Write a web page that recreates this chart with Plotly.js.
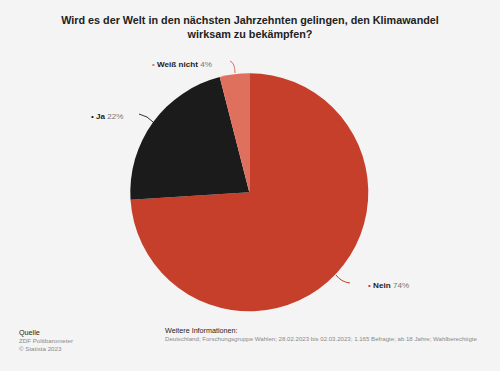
<!DOCTYPE html>
<html>
<head>
<meta charset="utf-8">
<script src="https://cdn.plot.ly/plotly-3.0.1.min.js"></script>
<style>
html,body{margin:0;padding:0;background:#f4f4f4;}
#chart{width:500px;height:371px;}
</style>
</head>
<body>
<div id="chart"></div>
<script>
// Data
const labels = ["Nein", "Ja", "Weiß nicht"];
const values = [74, 22, 4];
const colors = ["#c63f2a", "#1b1b1b", "#e0705e"];

const W = 500, H = 371;
const px = x => x / W;
const py = y => 1 - y / H;

// label layout (pixels): bullet left edge, vertical middle
const labelPos = [[366, 285], [89, 116], [150, 64]];
// leader line paths (pixels): start, control, end
const leaders = [
  [[336, 275], [341, 282], [350, 283]],
  [[139, 114], [148, 116], [153, 122]],
  [[230, 61], [235, 63], [235, 73]]
];

const font = "Liberation Sans, Arial, sans-serif";

const annotations = labels.map((l, i) => ({
  xref: "paper", yref: "paper",
  x: px(labelPos[i][0]), y: py(labelPos[i][1]),
  xanchor: "left", yanchor: "middle",
  showarrow: false,
  text: `<span style="color:${colors[i]}">•</span> <b>${l}</b> <span style="color:#777">${values[i]}%</span>`,
  font: {family: font, size: 8.1, color: "#222"}
}));

// footer
annotations.push(
  {xref:"paper",yref:"paper",x:px(17),y:py(332),xanchor:"left",yanchor:"middle",showarrow:false,
   text:"Quelle",font:{family:font,size:7.2,color:"#222"}},
  {xref:"paper",yref:"paper",x:px(17),y:py(340),xanchor:"left",yanchor:"middle",showarrow:false,
   text:"ZDF Politbarometer",font:{family:font,size:6.2,color:"#8a8a8a"}},
  {xref:"paper",yref:"paper",x:px(17),y:py(348),xanchor:"left",yanchor:"middle",showarrow:false,
   text:"© Statista 2023",font:{family:font,size:6.2,color:"#8a8a8a"}},
  {xref:"paper",yref:"paper",x:px(163),y:py(330),xanchor:"left",yanchor:"middle",showarrow:false,
   text:"Weitere Informationen:",font:{family:font,size:7.2,color:"#222"}},
  {xref:"paper",yref:"paper",x:px(163),y:py(338),xanchor:"left",yanchor:"middle",showarrow:false,
   text:"Deutschland; Forschungsgruppe Wahlen; 28.02.2023 bis 02.03.2023; 1.165 Befragte; ab 18 Jahre; Wahlberechtigte",
   font:{family:font,size:6.1,color:"#8a8a8a"}}
);

const shapes = leaders.map((p, i) => ({
  type: "path", xref: "paper", yref: "paper",
  path: `M ${px(p[0][0])} ${py(p[0][1])} Q ${px(p[1][0])} ${py(p[1][1])} ${px(p[2][0])} ${py(p[2][1])}`,
  line: {color: i === 1 ? "#333" : colors[i], width: 1}
}));

const cx = 249.3, cy = 192.3, r = 119;

const trace = {
  type: "pie",
  labels: labels,
  values: values,
  marker: {colors: colors, line: {width: 0}},
  sort: false,
  direction: "clockwise",
  rotation: 0,
  textinfo: "none",
  hoverinfo: "label+percent",
  showlegend: false,
  domain: {x: [px(cx - r), px(cx + r)], y: [py(cy + r), py(cy - r)]}
};

const layout = {
  width: W, height: H,
  margin: {l: 0, r: 0, t: 0, b: 0},
  paper_bgcolor: "#f4f4f4",
  plot_bgcolor: "#f4f4f4",
  title: {
    text: "<b>Wird es der Welt in den nächsten Jahrzehnten gelingen, den Klimawandel<br>wirksam zu bekämpfen?</b>",
    font: {family: font, size: 10.8, color: "#222"},
    x: 0.5, xanchor: "center", y: py(23.5), yanchor: "middle"
  },
  annotations: annotations,
  shapes: shapes
};

Plotly.newPlot("chart", [trace], layout, {displayModeBar: false, staticPlot: true});
</script>
</body>
</html>
